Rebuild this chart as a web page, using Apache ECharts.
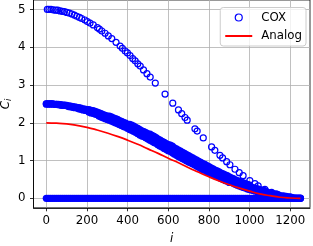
<!DOCTYPE html>
<html>
<head>
<meta charset="utf-8">
<script src="https://cdn.jsdelivr.net/npm/echarts@6/dist/echarts.min.js"></script>
<style>
html,body{margin:0;padding:0;background:#fff;}
#chart{width:313px;height:246px;}
</style>
</head>
<body>
<div id="chart"></div>
<script>
// Sample indices of the dense COX bands
const iGrid = [
  0,10,20,30,40,50,60,70,80,90,
  100,110,120,130,140,150,160,170,180,190,
  200,210,220,230,240,250,260,270,280,290,
  300,310,320,330,340,350,360,370,380,390,
  400,410,420,430,440,450,460,470,480,490,
  500,510,520,530,540,550,560,570,580,590,
  600,610,620,630,640,650,660,670,680,690,
  700,710,720,730,740,750,760,770,780,790,
  800,810,820,830,840,850,860,870,880,890,
  900,910,920,930,940,950,960,970,980,990,
  1000,1010,1020,1030,1040,1050,1060,1070,1080,1090,
  1100,1110,1120,1130,1140,1150,1160,1170,1180,1190,
  1200,1210,1220,1230,1240,1250
];
// COX values on the zero band
const zeroVals = [
  0,0,0,0,0,0,0,0,0,0,
  0,0,0,0,0,0,0,0,0,0,
  0,0,0,0,0,0,0,0,0,0,
  0,0,0,0,0,0,0,0,0,0,
  0,0,0,0,0,0,0,0,0,0,
  0,0,0,0,0,0,0,0,0,0,
  0,0,0,0,0,0,0,0,0,0,
  0,0,0,0,0,0,0,0,0,0,
  0,0,0,0,0,0,0,0,0,0,
  0,0,0,0,0,0,0,0,0,0,
  0,0,0,0,0,0,0,0,0,0,
  0,0,0,0,0,0,0,0,0,0,
  0,0,0,0,0,0
];
// COX values, lower edge of the middle band
const midLower = [
  2.50,2.50,2.50,2.50,2.49,2.49,2.48,2.47,2.46,2.46,
  2.45,2.43,2.42,2.41,2.40,2.39,2.37,2.36,2.34,2.33,
  2.32,2.28,2.26,2.25,2.23,2.21,2.17,2.15,2.13,2.11,
  2.09,2.07,2.05,2.02,2.00,1.98,1.95,1.93,1.90,1.88,
  1.85,1.82,1.80,1.77,1.74,1.71,1.68,1.65,1.63,1.60,
  1.57,1.54,1.51,1.48,1.45,1.41,1.38,1.35,1.32,1.29,
  1.26,1.24,1.21,1.17,1.14,1.11,1.08,1.05,1.02,0.99,
  0.96,0.94,0.91,0.88,0.85,0.82,0.79,0.76,0.74,0.71,
  0.68,0.66,0.63,0.60,0.58,0.55,0.52,0.50,0.47,0.45,
  0.42,0.42,0.40,0.37,0.35,0.33,0.31,0.29,0.27,0.25,
  0.23,0.22,0.20,0.19,0.17,0.15,0.14,0.13,0.11,0.10,
  0.09,0.08,0.07,0.06,0.05,0.04,0.03,0.03,0.02,0.01,
  0.01,0.01,0.00,0.00,0.00,0.00
];
// COX values, upper edge of the middle band
const midUpper = [
  2.50,2.50,2.50,2.50,2.49,2.49,2.49,2.48,2.47,2.47,
  2.46,2.45,2.44,2.43,2.42,2.41,2.40,2.39,2.37,2.36,
  2.35,2.35,2.33,2.32,2.30,2.28,2.26,2.24,2.22,2.20,
  2.18,2.18,2.16,2.13,2.11,2.09,2.06,2.04,2.01,1.99,
  1.96,1.96,1.94,1.91,1.88,1.85,1.82,1.79,1.77,1.74,
  1.71,1.70,1.67,1.64,1.61,1.57,1.54,1.51,1.48,1.45,
  1.42,1.41,1.38,1.34,1.31,1.28,1.25,1.22,1.19,1.16,
  1.13,1.10,1.07,1.04,1.01,0.98,0.95,0.92,0.90,0.87,
  0.84,0.81,0.78,0.75,0.73,0.70,0.67,0.65,0.62,0.60,
  0.57,0.54,0.52,0.49,0.47,0.45,0.43,0.41,0.39,0.37,
  0.35,0.30,0.28,0.27,0.25,0.23,0.22,0.21,0.19,0.15,
  0.14,0.13,0.12,0.11,0.10,0.07,0.06,0.06,0.05,0.04,
  0.04,0.02,0.01,0.01,0.01,0.01
];
// Sparse COX points on the upper curve
const topI = [
  5,13,23,34,46,56,68,79,89,101,
  114,126,138,150,163,174,190,202,215,231,
  251,261,273,289,305,322,343,363,374,388,
  399,412,425,437,450,462,478,495,511,536,
  584,622,650,666,682,693,731,742,772,813,
  829,854,867,887,903,928,949,968,1001,1026,
  1042,1075,1108,1133,1165,1195,1225
];
const topVals = [
  5.00,5.00,5.00,4.99,4.98,4.98,4.96,4.95,4.94,4.92,
  4.90,4.88,4.85,4.82,4.79,4.76,4.72,4.68,4.64,4.59,
  4.52,4.48,4.43,4.37,4.30,4.23,4.13,4.03,3.97,3.90,
  3.85,3.78,3.70,3.64,3.56,3.50,3.40,3.30,3.21,3.05,
  2.76,2.52,2.34,2.24,2.14,2.07,1.84,1.78,1.60,1.36,
  1.27,1.14,1.07,0.97,0.89,0.77,0.68,0.60,0.47,0.39,
  0.33,0.24,0.16,0.11,0.06,0.02,0.00
];
// Analog curve
const analogI = [0,50,100,150,200,250,300,350,400,450,500,550,600,650,700,750,800,850,900,950,1000,1050,1100,1150,1200,1250];
const analogVals = [2.00,1.99,1.97,1.93,1.88,1.81,1.73,1.64,1.54,1.43,1.31,1.19,1.06,0.94,0.81,0.69,0.57,0.46,0.36,0.27,0.19,0.12,0.07,0.03,0.01,0.00];

const xTicks = [0,200,400,600,800,1000,1200];
const yTicks = [0,1,2,3,4,5];

const FONT = 'DejaVu Sans';

const topData = topI.map((x, k) => [x, topVals[k]]);
const denseData = [];
iGrid.forEach((x, k) => denseData.push([x, zeroVals[k]]));
iGrid.forEach((x, k) => denseData.push([x, midLower[k]]));
iGrid.forEach((x, k) => denseData.push([x, midUpper[k]]));
const analogData = analogI.map((x, k) => [x, analogVals[k]]);

const chart = echarts.init(document.getElementById('chart'), null, {renderer: 'canvas'});
const axisCommon = {
  axisLine: {show: true, onZero: false, lineStyle: {color: '#000', width: 0.8}},
  axisTick: {show: true, inside: false, length: 3.5, lineStyle: {color: '#000', width: 0.8}},
  splitLine: {show: true, lineStyle: {color: '#b0b0b0', width: 0.8}},
  nameMoveOverlap: false
};
const plain = v => String(v);
chart.setOption({
  animation: false,
  grid: {left: 33.5, right: 3, top: 0, bottom: 38.2, show: true, borderColor: '#000', borderWidth: 0.8,
         backgroundColor: 'transparent', containLabel: false, outerBoundsMode: 'none'},
  legend: {
    data: [
      {name: 'COX', itemStyle: {borderWidth: 1.2, color: 'rgba(0,0,0,0)', borderColor: '#0000ff'}},
      {name: 'Analog', itemStyle: {opacity: 0}}
    ],
    orient: 'vertical',
    right: 7, top: 7.5,
    itemWidth: 27, itemHeight: 7, itemGap: 6.5,
    padding: [4, 4, 4, 4],
    backgroundColor: 'rgba(255,255,255,0.8)',
    borderColor: '#cccccc', borderWidth: 1, borderRadius: 3,
    textStyle: {fontFamily: FONT, fontSize: 11.8, color: '#000', padding: [0, 0, 0, 4]}
  },
  xAxis: Object.assign({}, axisCommon, {
    type: 'value', min: -63, max: 1297,
    name: 'i', nameLocation: 'middle', nameGap: 25,
    nameTextStyle: {fontFamily: FONT, fontSize: 11.8, color: '#000', fontStyle: 'italic'},
    axisTick: Object.assign({}, axisCommon.axisTick, {customValues: xTicks}),
    axisLabel: {customValues: xTicks, formatter: plain, margin: 7.5, fontFamily: FONT, fontSize: 11.8, color: '#000'}
  }),
  yAxis: Object.assign({}, axisCommon, {
    type: 'value', min: -0.25, max: 5.25,
    name: '{c|C}{s|i}', nameLocation: 'middle', nameGap: 21,
    nameTextStyle: {
      color: '#000',
      rich: {
        c: {fontFamily: FONT, fontSize: 11.8, fontStyle: 'italic', color: '#000'},
        s: {fontFamily: FONT, fontSize: 8.3, fontStyle: 'italic', color: '#000', padding: [6, 0, 0, 0]}
      }
    },
    axisTick: Object.assign({}, axisCommon.axisTick, {customValues: yTicks}),
    axisLabel: {customValues: yTicks, formatter: plain, margin: 8, fontFamily: FONT, fontSize: 11.8, color: '#000'}
  }),
  series: [
    {
      name: 'COX', type: 'scatter', data: topData,
      symbol: 'circle', symbolSize: 6,
      itemStyle: {color: 'rgba(0,0,0,0)', borderColor: '#0000ff', borderWidth: 1.2, opacity: 1},
      progressive: 0, large: false, z: 2
    },
    {
      name: 'COX', type: 'scatter', data: denseData,
      symbol: 'circle', symbolSize: 7.2,
      itemStyle: {color: '#0000ff', borderWidth: 0, opacity: 1},
      progressive: 0, large: false, z: 2
    },
    {
      name: 'Analog', type: 'line', data: analogData,
      symbol: 'none', smooth: true,
      lineStyle: {color: '#ff0000', width: 1.7},
      itemStyle: {color: '#ff0000'},
      z: 3
    }
  ]
});
</script>
</body>
</html>
